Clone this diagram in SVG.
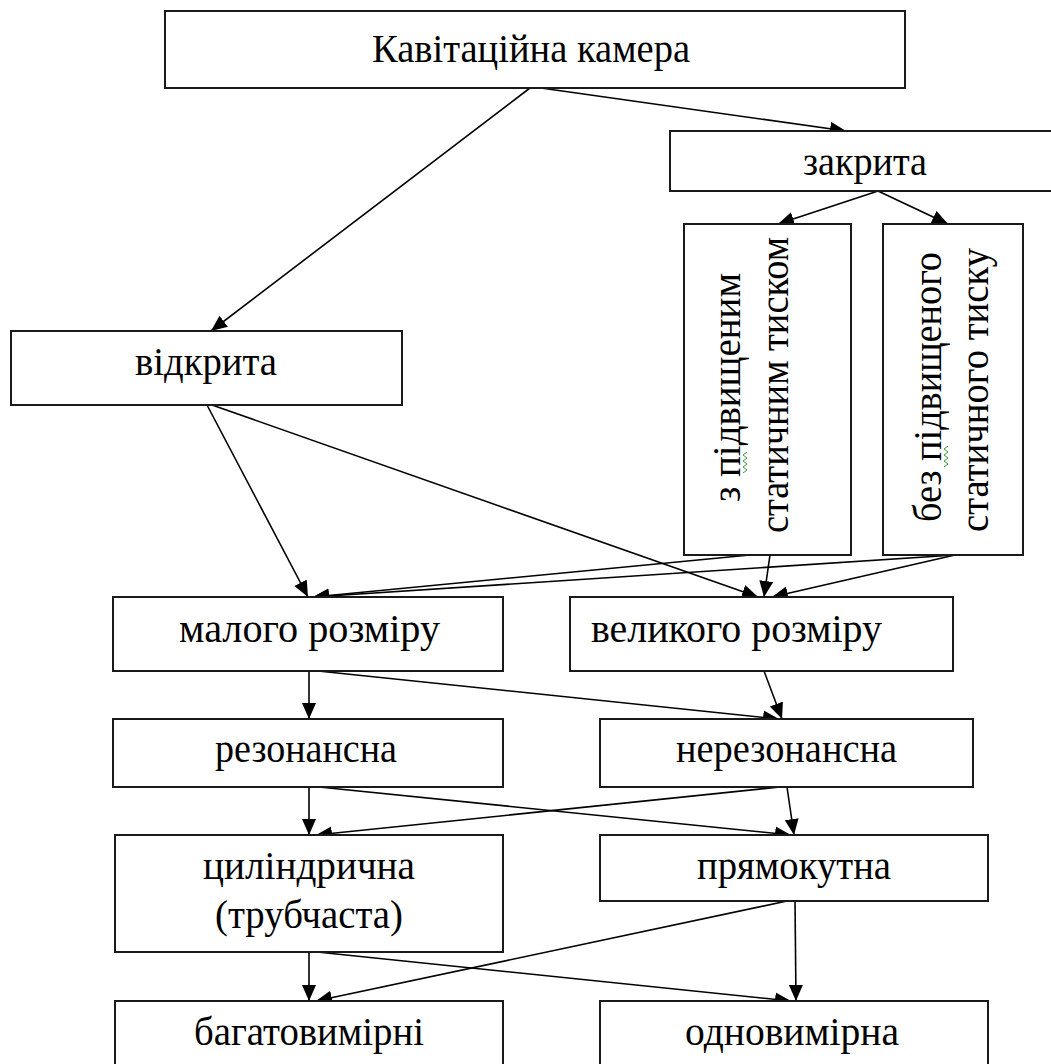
<svg xmlns="http://www.w3.org/2000/svg" width="1051" height="1064" viewBox="0 0 1051 1064">
<style>
.box{fill:#fff;stroke:#1a1a1a;stroke-width:2}
.t{font-family:"Liberation Serif","Times New Roman",serif;font-size:41px;fill:#000}
.c{fill:none;stroke:#000;stroke-width:1.6;marker-end:url(#ah)}
.sq{fill:none;stroke:#3a9a3a;stroke-width:1}
</style>
<defs>
<marker id="ah" markerUnits="userSpaceOnUse" markerWidth="17" markerHeight="15" refX="16" refY="7" orient="auto">
<path d="M0,0 L16,7 L0,14 z" fill="#000"/>
</marker>
</defs>
<rect width="1051" height="1064" fill="#fff"/>
<g id="connectors">
<line class="c" x1="530" y1="88" x2="211" y2="331"/>
<line class="c" x1="541" y1="88" x2="846" y2="131"/>
<line class="c" x1="878" y1="191" x2="778" y2="224"/>
<line class="c" x1="878" y1="191" x2="948" y2="224"/>
<line class="c" x1="207" y1="405" x2="308" y2="597"/>
<line class="c" x1="212" y1="405" x2="758" y2="597"/>
<line class="c" x1="750" y1="555" x2="313" y2="597"/>
<line class="c" x1="955" y1="555" x2="313" y2="597"/>
<line class="c" x1="770" y1="555" x2="764" y2="597"/>
<line class="c" x1="955" y1="555" x2="772" y2="597"/>
<line class="c" x1="309" y1="671" x2="309" y2="719"/>
<line class="c" x1="318" y1="671" x2="779" y2="719"/>
<line class="c" x1="764" y1="671" x2="782" y2="719"/>
<line class="c" x1="309" y1="787" x2="309" y2="835"/>
<line class="c" x1="319" y1="787" x2="791" y2="835"/>
<line class="c" x1="780" y1="787" x2="316" y2="835"/>
<line class="c" x1="787" y1="787" x2="794" y2="835"/>
<line class="c" x1="309" y1="952" x2="309" y2="1001"/>
<line class="c" x1="317" y1="952" x2="791" y2="1001"/>
<line class="c" x1="787" y1="901" x2="316" y2="1001"/>
<line class="c" x1="795" y1="901" x2="796" y2="1001"/>
</g>
<g id="n-kamera">
<rect class="box" x="165" y="11" width="740" height="77"/>
<text class="t" x="372" y="62" textLength="318" lengthAdjust="spacingAndGlyphs">Кавітаційна камера</text>
</g>
<g id="n-zakryta">
<rect class="box" x="670" y="131" width="400" height="60"/>
<text class="t" x="803" y="175" textLength="124" lengthAdjust="spacingAndGlyphs">закрита</text>
</g>
<g id="n-z-tyskom">
<rect class="box" x="684" y="224" width="167" height="331"/>
<text class="t" transform="translate(740,502) rotate(-90)" textLength="229" lengthAdjust="spacingAndGlyphs">з підвищеним</text>
<text class="t" transform="translate(788,533) rotate(-90)" textLength="296" lengthAdjust="spacingAndGlyphs">статичним тиском</text>
<polyline class="sq" points="743,473 747,470 743,467 747,464 743,461 747,458 743,455 747,452"/>
</g>
<g id="n-bez-tysku">
<rect class="box" x="883" y="224" width="140" height="331"/>
<text class="t" transform="translate(941,522) rotate(-90)" textLength="270" lengthAdjust="spacingAndGlyphs">без підвищеного</text>
<text class="t" transform="translate(988,532) rotate(-90)" textLength="284" lengthAdjust="spacingAndGlyphs">статичного тиску</text>
<polyline class="sq" points="944,467 948,464 944,461 948,458 944,455 948,452 944,449 948,446"/>
</g>
<g id="n-vidkryta">
<rect class="box" x="11" y="331" width="391" height="74"/>
<text class="t" x="135" y="375" textLength="142" lengthAdjust="spacingAndGlyphs">відкрита</text>
</g>
<g id="n-maloho">
<rect class="box" x="113" y="597" width="390" height="74"/>
<text class="t" x="179" y="642" textLength="261" lengthAdjust="spacingAndGlyphs">малого розміру</text>
</g>
<g id="n-velykoho">
<rect class="box" x="570" y="597" width="383" height="74"/>
<text class="t" x="591" y="642" textLength="291" lengthAdjust="spacingAndGlyphs">великого розміру</text>
</g>
<g id="n-rezonansna">
<rect class="box" x="113" y="719" width="390" height="68"/>
<text class="t" x="215" y="762" textLength="182" lengthAdjust="spacingAndGlyphs">резонансна</text>
</g>
<g id="n-nerezonansna">
<rect class="box" x="600" y="719" width="373" height="68"/>
<text class="t" x="676" y="762" textLength="221" lengthAdjust="spacingAndGlyphs">нерезонансна</text>
</g>
<g id="n-cylindr">
<rect class="box" x="115" y="835" width="388" height="117"/>
<text class="t" x="203" y="879" textLength="212" lengthAdjust="spacingAndGlyphs">циліндрична</text>
<text class="t" x="215" y="928" textLength="188" lengthAdjust="spacingAndGlyphs">(трубчаста)</text>
</g>
<g id="n-pryamokutna">
<rect class="box" x="600" y="835" width="388" height="66"/>
<text class="t" x="697" y="879" textLength="194" lengthAdjust="spacingAndGlyphs">прямокутна</text>
</g>
<g id="n-bahatovymirni">
<rect class="box" x="115" y="1001" width="388" height="80"/>
<text class="t" x="194" y="1045" textLength="230" lengthAdjust="spacingAndGlyphs">багатовимірні</text>
</g>
<g id="n-odnovymirna">
<rect class="box" x="600" y="1001" width="388" height="80"/>
<text class="t" x="685" y="1045" textLength="214" lengthAdjust="spacingAndGlyphs">одновимірна</text>
</g>
</svg>
